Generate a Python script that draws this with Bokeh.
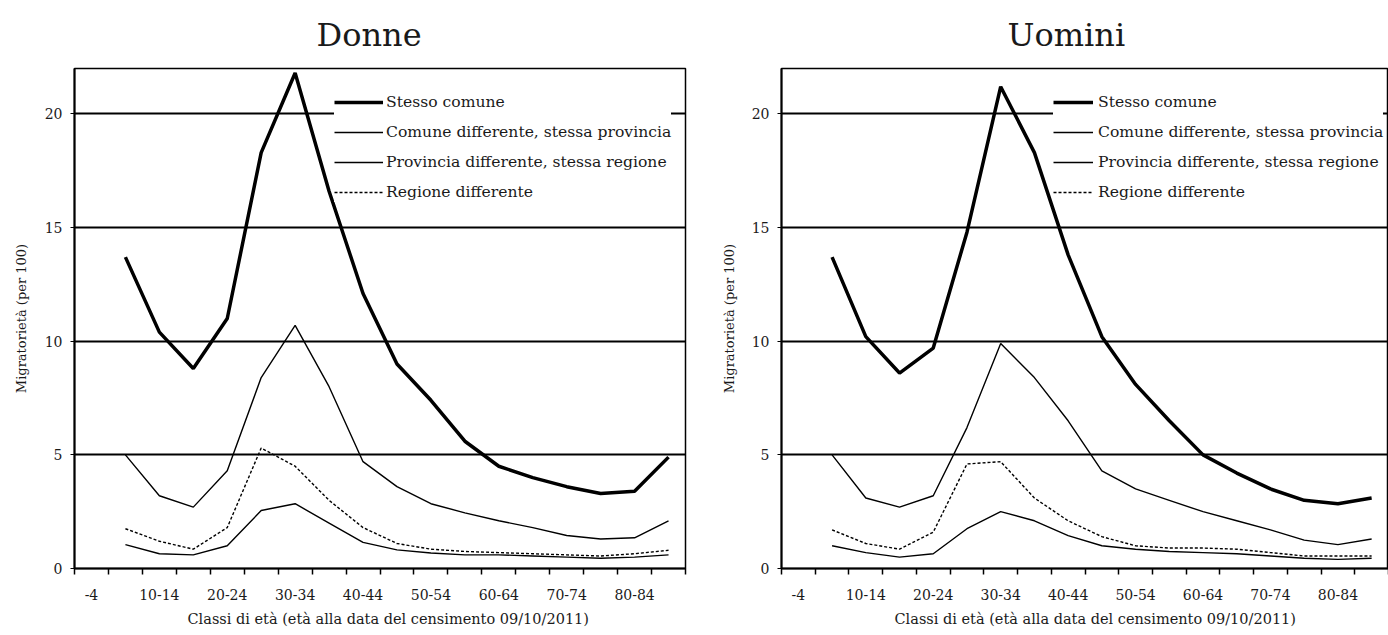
from bokeh.plotting import figure
from bokeh.layouts import row
from bokeh.models import Range1d, FixedTicker, Legend, LegendItem, Title
from bokeh.embed import file_html
from bokeh.resources import INLINE

# ---- data -------------------------------------------------------------
age_classes = ["0-4", "5-9", "10-14", "15-19", "20-24", "25-29", "30-34", "35-39",
               "40-44", "45-49", "50-54", "55-59", "60-64", "65-69", "70-74",
               "75-79", "80-84", "85+"]
labelled_classes = ["0-4", "10-14", "20-24", "30-34", "40-44", "50-54",
                    "60-64", "70-74", "80-84"]
x_tick_labels = ["-4", "10-14", "20-24", "30-34", "40-44", "50-54",
                 "60-64", "70-74", "80-84"]
data_classes = age_classes[1:]          # series start at 5-9

y_ticks = [0, 5, 10, 15, 20]

series_names = ["Stesso comune",
                "Comune differente, stessa provincia",
                "Provincia differente, stessa regione",
                "Regione differente"]

donne_stesso_comune = [13.7, 10.4, 8.8, 11.0, 18.3, 21.8, 16.6, 12.1, 9.0, 7.4,
                       5.6, 4.5, 4.0, 3.6, 3.3, 3.4, 4.9]
donne_comune_diff = [5.0, 3.2, 2.7, 4.3, 8.4, 10.7, 8.0, 4.7, 3.6, 2.85,
                     2.45, 2.1, 1.8, 1.45, 1.3, 1.35, 2.1]
donne_provincia_diff = [1.05, 0.65, 0.6, 1.0, 2.55, 2.85, 2.0, 1.15, 0.82, 0.68,
                        0.6, 0.6, 0.55, 0.5, 0.45, 0.5, 0.6]
donne_regione_diff = [1.75, 1.2, 0.85, 1.8, 5.3, 4.5, 3.0, 1.8, 1.1, 0.85,
                      0.75, 0.7, 0.65, 0.6, 0.55, 0.65, 0.8]

uomini_stesso_comune = [13.7, 10.2, 8.6, 9.7, 14.8, 21.2, 18.3, 13.8, 10.2, 8.1,
                        6.5, 5.0, 4.2, 3.5, 3.0, 2.85, 3.1]
uomini_comune_diff = [5.0, 3.1, 2.7, 3.2, 6.2, 9.9, 8.4, 6.5, 4.3, 3.5,
                      3.0, 2.5, 2.1, 1.7, 1.25, 1.05, 1.3]
uomini_provincia_diff = [1.0, 0.7, 0.5, 0.65, 1.75, 2.5, 2.1, 1.45, 1.0, 0.85,
                         0.75, 0.7, 0.65, 0.55, 0.45, 0.4, 0.45]
uomini_regione_diff = [1.7, 1.1, 0.85, 1.6, 4.6, 4.7, 3.1, 2.1, 1.4, 1.0,
                       0.9, 0.9, 0.85, 0.7, 0.55, 0.55, 0.55]

FONT = "DejaVu Serif"
INK = "#1a1a1a"


def make_panel(title_text, values, width, border_left, border_right,
               legend_x, glyph_w, standoff, title_offset, xlabel_offset,
               ylabel_standoff):
    n = len(age_classes)
    p = figure(width=width, height=635,
               x_range=Range1d(-0.5, n - 0.5), y_range=Range1d(0, 22),
               output_backend="svg", toolbar_location=None, tools="",
               min_border_left=border_left, min_border_right=border_right,
               min_border_top=68, min_border_bottom=67,
               background_fill_color="white", border_fill_color="white")

    # title
    p.title.text = title_text
    p.title.text_font = FONT
    p.title.text_font_size = "32px"
    p.title.text_font_style = "normal"
    p.title.text_color = INK
    p.title.align = "left"
    p.title.vertical_align = "top"
    p.title.offset = title_offset
    p.title.standoff = 26

    p.outline_line_color = "black"
    p.outline_line_width = 1.5
    p.outline_line_alpha = 1

    # x axis: labels at class centres, ticks at class boundaries
    xa = p.xaxis[0]
    xa.ticker = FixedTicker(
        ticks=[age_classes.index(c) for c in labelled_classes],
        minor_ticks=[i - 0.5 for i in range(n + 1)])
    xa.major_label_overrides = {age_classes.index(c): lab
                                for c, lab in zip(labelled_classes, x_tick_labels)}
    xa.major_tick_out = 0
    xa.major_tick_in = 0
    xa.minor_tick_out = 6
    xa.minor_tick_in = 0
    xa.minor_tick_line_color = "black"
    xa.minor_tick_line_width = 1.5
    xa.axis_line_width = 2
    xa.axis_line_color = "black"
    xa.major_label_text_font = FONT
    xa.major_label_text_font_size = "14px"
    xa.major_label_text_color = INK
    xa.major_label_standoff = 14

    # y axis
    ya = p.yaxis[0]
    ya.ticker = FixedTicker(ticks=y_ticks, minor_ticks=[])
    ya.major_tick_out = 4
    ya.major_tick_in = 0
    ya.major_tick_line_color = "black"
    ya.axis_line_width = 2
    ya.axis_line_color = "black"
    ya.major_label_text_font = FONT
    ya.major_label_text_font_size = "14px"
    ya.major_label_text_color = INK
    ya.major_label_standoff = 8
    ya.axis_label = "Migratorietà (per 100)"
    ya.axis_label_text_font = FONT
    ya.axis_label_text_font_size = "13px"
    ya.axis_label_text_font_style = "normal"
    ya.axis_label_text_color = INK
    ya.axis_label_standoff = ylabel_standoff

    p.xgrid.visible = False
    p.ygrid.ticker = FixedTicker(ticks=y_ticks[1:])
    p.ygrid.grid_line_color = "black"
    p.ygrid.grid_line_width = 1.8
    p.ygrid.grid_line_alpha = 1

    xlab = Title(text="Classi di età (età alla data del censimento 09/10/2011)",
                 align="left", offset=xlabel_offset, text_font=FONT,
                 text_font_size="14.5px", text_font_style="normal",
                 text_color=INK, standoff=13)
    p.add_layout(xlab, "below")

    xs = [age_classes.index(c) for c in data_classes]
    styles = [dict(line_width=3.5), dict(line_width=1.4), dict(line_width=1.4),
              dict(line_width=1.4, line_dash="3 2")]
    items = []
    for name, vals, st in zip(series_names, values, styles):
        r = p.line(xs, vals, line_color="black", **st)
        items.append(LegendItem(label=name, renderers=[r]))

    legend = Legend(items=items, location=(legend_x, 366),
                    glyph_width=glyph_w, glyph_height=20, label_height=20,
                    label_standoff=standoff, spacing=10, padding=2, margin=0,
                    label_text_font=FONT, label_text_font_size="15.6px",
                    label_text_color=INK, border_line_color=None,
                    background_fill_color="white", background_fill_alpha=1)
    p.add_layout(legend)
    return p


p1 = make_panel("Donne",
                [donne_stesso_comune, donne_comune_diff,
                 donne_provincia_diff, donne_regione_diff],
                width=694, border_left=74, border_right=9,
                legend_x=260, glyph_w=49, standoff=3,
                title_offset=242, xlabel_offset=113, ylabel_standoff=13)
p2 = make_panel("Uomini",
                [uomini_stesso_comune, uomini_comune_diff,
                 uomini_provincia_diff, uomini_regione_diff],
                width=694, border_left=87, border_right=0,
                legend_x=272, glyph_w=40, standoff=5,
                title_offset=226, xlabel_offset=113, ylabel_standoff=12)

layout = row(p1, p2)
open("out.html", "w").write(file_html(layout, INLINE))
